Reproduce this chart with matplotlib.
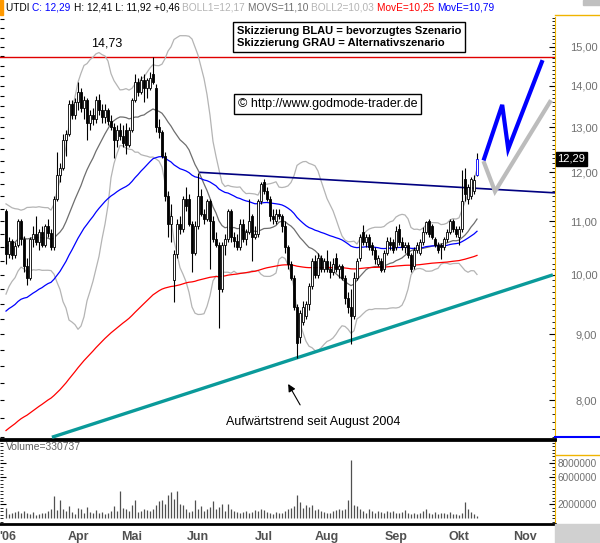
import numpy as np
import pandas as pd
import matplotlib
matplotlib.use("Agg")
import matplotlib.pyplot as plt
from matplotlib.ticker import MultipleLocator, FixedLocator, FuncFormatter, NullFormatter, NullLocator
from matplotlib.patches import Rectangle
from matplotlib.lines import Line2D

plt.rcParams['font.family'] = ['Liberation Sans', 'DejaVu Sans']

# daily bars, trading-day index 0..157 (end Feb 2006 .. 10 Oct 2006)
opens = [11.20, 10.38, 10.62, 10.35, 10.55, 11.00, 10.65, 10.15, 9.95, 10.65,
         10.75, 10.60, 10.80, 10.55, 10.90, 10.78, 10.50, 11.45, 11.95, 12.10,
         12.70, 12.85, 13.55, 13.30, 13.60, 13.85, 13.45, 13.65, 13.10, 13.30,
         13.20, 13.65, 13.40, 13.25, 13.40, 13.15, 13.00, 12.70, 12.95, 12.80,
         12.95, 12.60, 12.95, 13.65, 14.10, 13.85, 14.15, 13.95, 13.95, 14.30,
         13.95, 13.00, 12.90, 12.35, 11.50, 10.95, 9.90, 10.37, 10.95, 10.85,
         11.45, 11.45, 10.95, 10.40, 10.90, 11.50, 11.15, 11.05, 11.40, 11.00,
         10.65, 10.55, 9.75, 10.55, 10.65, 11.20, 10.70, 10.62, 10.50, 10.95,
         10.65, 10.80, 11.10, 10.70, 10.75, 11.40, 11.80, 11.60, 11.45, 11.10,
         11.00, 11.15, 11.10, 10.90, 10.50, 10.20, 9.95, 9.45, 8.95, 9.20,
         9.30, 9.50, 9.80, 10.25, 10.00, 10.30, 10.10, 10.25, 10.10, 10.05,
         10.30, 10.10, 10.15, 9.95, 9.60, 9.45, 9.30, 9.95, 10.30, 10.80,
         10.60, 10.70, 10.55, 10.45, 10.20, 10.25, 10.10, 10.40, 10.60, 10.60,
         10.50, 10.85, 10.60, 10.50, 10.55, 10.35, 10.15, 10.45, 10.40, 10.60,
         10.80, 11.00, 10.90, 10.65, 10.55, 10.55, 10.50, 10.65, 10.80, 11.00,
         10.85, 10.70, 10.85, 11.85, 11.45, 11.50, 11.60, 11.95]
highs = [11.25, 10.70, 10.66, 10.60, 11.05, 11.05, 10.72, 10.30, 10.70, 10.90,
         11.10, 10.85, 10.90, 10.95, 11.05, 10.85, 11.50, 12.45, 12.20, 12.85,
         12.95, 13.65, 13.65, 13.70, 14.10, 13.95, 13.75, 13.70, 13.40, 13.45,
         13.75, 13.80, 13.55, 13.55, 13.45, 13.30, 13.10, 13.05, 13.10, 13.05,
         13.10, 13.00, 13.70, 14.30, 14.20, 14.25, 14.30, 14.20, 14.35, 14.73,
         14.05, 13.20, 12.95, 12.45, 11.60, 11.35, 10.45, 11.05, 11.10, 11.50,
         11.70, 11.55, 11.00, 11.00, 11.98, 11.65, 11.25, 11.45, 11.45, 11.10,
         10.80, 10.60, 10.60, 10.75, 11.25, 11.25, 10.80, 10.75, 11.05, 11.05,
         10.85, 11.45, 11.15, 10.90, 11.45, 11.80, 11.85, 11.70, 11.50, 11.25,
         11.25, 11.25, 11.15, 11.00, 10.55, 10.25, 10.00, 9.50, 9.40, 9.55,
         9.55, 9.85, 10.30, 10.35, 10.40, 10.35, 10.30, 10.45, 10.25, 10.30,
         10.40, 10.20, 10.20, 10.00, 9.70, 9.75, 10.05, 10.30, 10.75, 10.93,
         10.75, 10.75, 10.60, 10.50, 10.35, 10.30, 10.45, 10.70, 10.70, 10.65,
         10.90, 10.95, 10.70, 10.60, 10.60, 10.40, 10.50, 10.60, 10.65, 10.88,
         11.00, 11.05, 10.95, 10.70, 10.60, 10.58, 10.70, 10.85, 11.05, 11.05,
         10.90, 10.90, 12.05, 12.10, 11.75, 11.90, 11.95, 12.41]
lows = [10.20, 10.30, 10.28, 10.30, 10.50, 10.55, 10.05, 9.82, 9.90, 10.50,
        10.55, 10.45, 10.50, 10.50, 10.70, 10.45, 10.45, 11.40, 11.80, 12.05,
        12.35, 12.80, 13.20, 13.20, 13.40, 13.35, 13.20, 12.70, 12.95, 13.05,
        13.10, 13.30, 13.10, 13.10, 13.05, 12.95, 12.30, 12.55, 12.70, 12.55,
        12.40, 12.55, 12.90, 13.60, 13.75, 13.80, 13.60, 13.70, 13.90, 14.05,
        12.90, 12.75, 12.30, 11.40, 10.70, 10.60, 9.53, 10.30, 10.75, 10.80,
        11.20, 10.90, 10.05, 10.35, 10.85, 11.10, 10.95, 11.00, 10.10, 10.60,
        10.50, 9.10, 9.70, 10.35, 10.60, 10.60, 10.50, 10.45, 10.45, 10.60,
        10.55, 10.75, 10.25, 10.65, 10.70, 11.35, 11.55, 11.40, 11.00, 10.95,
        10.95, 11.05, 10.80, 10.40, 10.10, 9.90, 9.40, 8.62, 8.85, 9.15,
        9.25, 9.40, 9.75, 9.95, 9.95, 10.05, 10.05, 10.05, 9.95, 10.00,
        10.05, 9.95, 9.90, 9.50, 9.35, 8.84, 9.25, 9.90, 10.25, 10.55,
        10.50, 10.45, 10.35, 10.20, 10.15, 10.05, 10.05, 10.35, 10.45, 10.40,
        10.45, 10.55, 10.45, 10.40, 10.30, 10.05, 10.10, 10.40, 10.35, 10.55,
        10.75, 10.70, 10.65, 10.50, 10.40, 10.28, 10.45, 10.60, 10.75, 10.80,
        10.70, 10.55, 10.80, 11.40, 11.35, 11.45, 11.55, 11.92]
closes = [10.38, 10.62, 10.35, 10.52, 11.00, 10.65, 10.15, 9.95, 10.65, 10.75,
          10.60, 10.80, 10.55, 10.90, 10.78, 10.50, 11.45, 11.95, 12.10, 12.70,
          12.85, 13.55, 13.30, 13.60, 13.85, 13.45, 13.65, 13.10, 13.30, 13.20,
          13.65, 13.40, 13.25, 13.40, 13.15, 13.00, 12.70, 12.95, 12.80, 12.65,
          12.60, 12.95, 13.65, 14.10, 13.85, 14.15, 13.95, 14.15, 14.20, 14.10,
          13.00, 12.90, 12.35, 11.50, 10.95, 11.10, 10.37, 10.95, 10.85, 11.45,
          11.30, 10.95, 10.40, 10.90, 11.50, 11.15, 11.05, 11.40, 11.00, 10.65,
          10.55, 9.75, 10.55, 10.65, 11.20, 10.70, 10.62, 10.50, 10.95, 10.65,
          10.80, 11.00, 10.70, 10.75, 11.40, 11.75, 11.60, 11.45, 11.10, 11.05,
          11.15, 11.10, 10.90, 10.50, 10.20, 9.95, 9.45, 8.85, 9.35, 9.45,
          9.50, 9.80, 10.25, 10.00, 10.30, 10.10, 10.25, 10.10, 10.05, 10.20,
          10.10, 10.15, 9.95, 9.60, 9.45, 9.30, 9.95, 10.25, 10.70, 10.60,
          10.70, 10.50, 10.45, 10.28, 10.30, 10.08, 10.40, 10.62, 10.55, 10.45,
          10.82, 10.60, 10.50, 10.55, 10.35, 10.10, 10.45, 10.55, 10.60, 10.80,
          10.98, 10.75, 10.70, 10.55, 10.45, 10.50, 10.65, 10.80, 11.00, 10.85,
          10.75, 10.85, 11.40, 11.55, 11.70, 11.85, 11.83, 12.29]
# closes before the first visible bar (warm-up for the 20-day bands)
pre_closes = [9.70, 9.85, 10.05, 9.90, 10.15, 10.30, 10.20, 10.45, 10.40, 10.70,
              10.60, 10.80, 10.95, 10.80, 11.05, 10.90, 10.75, 11.00, 11.15]
ema_red_start = 7.55
ema_blue_start = 9.34

# volume in millions of shares
volume = [1.5, 0.6, 0.7, 0.9, 1.0, 0.8, 1.1, 0.7, 0.6, 0.9, 0.5, 0.6, 0.8, 0.7, 1.0, 1.3,
          3.3, 1.2, 2.7, 1.35, 1.0, 1.75, 0.9, 0.6, 1.5, 1.35, 0.8, 1.6, 0.9, 0.7, 1.2, 0.8,
          0.9, 0.6, 0.7, 1.1, 1.75, 1.0, 3.9, 1.5, 1.35, 1.0, 1.95, 2.6, 0.9, 1.1, 1.3, 1.2,
          1.0, 1.4, 1.85, 2.5, 2.7, 2.1, 3.4, 3.8, 2.8, 4.0, 2.1, 1.85, 1.3, 0.9, 1.1, 2.7,
          1.3, 1.75, 1.0, 1.3, 1.6, 2.5, 1.3, 1.65, 2.1, 1.1, 2.1, 1.3, 1.0, 0.9, 0.7, 0.9,
          1.0, 0.8, 0.9, 1.2, 1.1, 1.3, 1.25, 0.9, 0.8, 0.6, 0.9, 0.8, 0.7, 1.1, 1.3, 1.5,
          1.75, 3.4, 2.4, 1.5, 1.95, 1.6, 1.85, 1.2, 1.4, 1.0, 0.9, 0.8, 0.7, 1.1, 1.2, 1.3,
          1.2, 1.4, 2.7, 8.45, 1.95, 1.75, 1.35, 1.0, 0.8, 1.3, 1.0, 0.8, 1.1, 0.9, 0.8, 1.0,
          0.9, 1.1, 0.8, 0.7, 0.9, 1.2, 0.8, 0.6, 0.7, 0.6, 0.8, 1.0, 1.3, 0.7, 0.6, 0.9,
          0.6, 0.8, 0.7, 0.6, 0.9, 0.6, 0.6, 0.5, 0.8, 2.3, 1.35, 0.9, 0.55, 0.33]

month_pos = [0.7, 24, 42, 64, 86, 107, 130, 151, 173]
month_labels = ["'06", 'Apr', 'Mai', 'Jun', 'Jul', 'Aug', 'Sep', 'Okt', 'Nov']

# drawn lines (index, price)
resist_x, resist_y = [64.7, 183], [12.0, 11.57]
trend_x, trend_y = [15.3, 182.3], [7.49, 10.0]
blue_sketch_x, blue_sketch_y = [159.4, 165.4, 167.4, 178.6], [12.3, 13.53, 12.51, 14.6]
gray_sketch_x, gray_sketch_y = [159.4, 163.0, 181.3], [12.2, 11.6, 13.6]
high_level = 14.73

idx = np.arange(len(closes))
o = np.array(opens); h = np.array(highs); l = np.array(lows); c = np.array(closes)

allc = pd.Series(pre_closes + closes)
sma = allc.rolling(20).mean().values[len(pre_closes):]
sd = allc.rolling(20).std(ddof=0).values[len(pre_closes):]
red = pd.Series([ema_red_start] + closes).ewm(span=185, adjust=False).mean().values[1:]
blue = pd.Series([ema_blue_start] + closes).ewm(span=58, adjust=False).mean().values[1:]

W, H = 600, 543
fig = plt.figure(figsize=(6, 5.43), dpi=100)
ax = fig.add_axes([0, 1 - 439 / H, 555 / W, (439 - 17) / H])
axv = fig.add_axes([0, 1 - 524 / H, 555 / W, (524 - 440) / H])

ax.set_yscale('log')
ax.set_xlim(-2, 183)
ax.set_ylim(7.467, 15.82)

# indicators
ax.plot(idx, sma + 2 * sd, color='#b4b4b4', lw=0.9, zorder=2)
ax.plot(idx, sma - 2 * sd, color='#b4b4b4', lw=0.9, zorder=2)
ax.plot(idx, sma, color='#6e6e6e', lw=0.9, zorder=2)
ax.plot(idx, red, color='#ff0000', lw=0.9, zorder=2)
ax.plot(idx, blue, color='#0000ff', lw=0.9, zorder=2)

ax.axhline(high_level, color='#e00000', lw=1.0, zorder=1)
ax.plot(resist_x, resist_y, color='#000080', lw=1.2, zorder=3)
ax.plot(trend_x, trend_y, color='#0a9a9a', lw=2.4, zorder=3, solid_capstyle='butt')

# candles
ax.vlines(idx, l, h, color='black', lw=0.8, zorder=4)
up = c >= o
fills = np.where(up, 'white', 'black')
edges = ['black'] * len(c)
edges[-1] = '#0000ff'
ax.bar(idx, np.maximum(np.abs(c - o), 0.02), bottom=np.minimum(o, c), width=0.75,
       color=fills, edgecolor=edges, linewidth=0.6, zorder=5)

# scenario sketches
ax.plot(gray_sketch_x, gray_sketch_y, color='#bcbcbc', lw=3, zorder=6, solid_joinstyle='miter')
ax.plot(blue_sketch_x, blue_sketch_y, color='#0000ff', lw=3, zorder=7, solid_joinstyle='miter')

# annotations
ax.text(33.7, 15.1, '14,73', fontsize=9, ha='center', va='center')
ax.annotate('', xy=(93.6, 8.27), xytext=(98.5, 7.9),
            arrowprops=dict(arrowstyle='-|>', color='black', lw=0.8, mutation_scale=11))
ax.text(102.3, 7.69, 'Aufwärtstrend seit August 2004', fontsize=9, ha='center', va='center')
ax.text(237 / 555, (439 - 37) / 422, 'Skizzierung BLAU = bevorzugtes Szenario\nSkizzierung GRAU = Alternativszenario',
        transform=ax.transAxes, fontsize=8, fontweight='bold', ha='left', va='center', linespacing=1.35,
        bbox=dict(boxstyle='square,pad=0.35', fc='white', ec='black', lw=1), zorder=8)
ax.text(238 / 555, (439 - 104) / 422, '© http://www.godmode-trader.de',
        transform=ax.transAxes, fontsize=9, ha='left', va='center',
        bbox=dict(boxstyle='square,pad=0.3', fc='white', ec='black', lw=1), zorder=8)

# last price box
ax.text(1.004, c[-1], '12,29', transform=ax.get_yaxis_transform(), fontsize=8, color='white',
        ha='left', va='center', bbox=dict(boxstyle='square,pad=0.15', fc='black', ec='black'), zorder=9,
        clip_on=False)

# price axis (labels right-aligned near the figure edge)
ax.yaxis.set_major_locator(FixedLocator([8, 9, 10, 11, 12, 13, 14, 15]))
ax.yaxis.set_major_formatter(FuncFormatter(lambda v, p: f'{v:.2f}'.replace('.', ',')))
ax.yaxis.set_minor_locator(MultipleLocator(0.1))
ax.yaxis.set_minor_formatter(NullFormatter())
ax.tick_params(axis='y', which='both', left=False, labelleft=False, right=True, labelright=True,
               direction='in', colors='black', labelcolor='#707070', labelsize=8)
ax.tick_params(axis='y', which='major', length=4, pad=30.5)
ax.tick_params(axis='y', which='minor', length=2)
plt.setp(ax.get_yticklabels(), ha='right')
ax.xaxis.set_major_locator(NullLocator())
ax.xaxis.set_minor_locator(NullLocator())
sec = ax.secondary_yaxis('left', functions=(lambda v: v, lambda v: v))
sec.yaxis.set_major_locator(MultipleLocator(0.25))
sec.yaxis.set_minor_locator(NullLocator())
sec.yaxis.set_major_formatter(NullFormatter())
sec.yaxis.set_minor_formatter(NullFormatter())
sec.tick_params(axis='y', direction='in', length=3, width=0.8)
sec.spines['left'].set_visible(False)

for s in ['top', 'left']:
    ax.spines[s].set_visible(False)
ax.spines['right'].set_color('#f0b400')
ax.spines['bottom'].set_linewidth(2)

# volume panel
axv.vlines(idx, 0, volume, color='#505050', lw=0.9)
axv.set_xlim(-2, 183)
axv.set_ylim(-0.85, 11.4)
axv.yaxis.set_major_locator(FixedLocator([2, 6, 8]))
axv.yaxis.set_major_formatter(FuncFormatter(lambda v, p: f'{int(v * 1e6)}'))
axv.yaxis.set_minor_locator(MultipleLocator(0.5))
axv.tick_params(axis='y', which='both', left=True, right=True, labelleft=False, labelright=True,
                direction='in', labelcolor='#707070', labelsize=7.2, pad=2)
axv.tick_params(axis='y', which='major', length=4)
axv.tick_params(axis='y', which='minor', length=2)
axv.set_xticks(month_pos)
axv.set_xticklabels(month_labels, fontsize=9, fontweight='bold', color='#505050')
axv.tick_params(axis='x', length=0, pad=5)
axv.spines['left'].set_visible(False)
axv.spines['top'].set_linewidth(2)
axv.spines['bottom'].set_linewidth(2)
axv.spines['right'].set_color('#f0b400')
axv.text(6 / 555, (524 - 447) / 84, 'Volume=330737', transform=axv.transAxes, fontsize=7.5,
         color='#606060', ha='left', va='center')

# header line with coloured values, each piece placed after the previous one
pieces = [('UTDI ', 'black'), ('C: 12,29 ', '#0000ff'), ('H: 12,41 L: 11,92 +0,46 ', 'black'),
          ('BOLL1=12,17 ', '#b4b4b4'), ('MOVS=11,10 ', '#6e6e6e'), ('BOLL2=10,03 ', '#b4b4b4'),
          ('MovE=10,25 ', '#ff0000'), ('MovE=10,79', '#0000ff')]
prev = fig.text(6 / W, 1 - 8 / H, pieces[0][0], color=pieces[0][1], fontsize=7.3, va='center')
for txt, col in pieces[1:]:
    prev = ax.annotate(txt, xy=(1, 0.5), xycoords=prev, va='center', ha='left', color=col,
                       fontsize=7.3, annotation_clip=False)

# frame decorations
fig.patches.append(Rectangle((0, 1 - 15 / H), 3 / W, 15 / H, transform=fig.transFigure, color='#ff9900'))
fig.lines.append(Line2D([555 / W, 1], [1 - 15 / H, 1 - 15 / H], transform=fig.transFigure, color='#f0b400', lw=1))
fig.lines.append(Line2D([555 / W, 1], [1 - 437 / H, 1 - 437 / H], transform=fig.transFigure, color='#0000ff', lw=1.5))
fig.lines.append(Line2D([555 / W, 1], [1 - 455 / H, 1 - 455 / H], transform=fig.transFigure, color='#f0b400', lw=1))
fig.patches.append(Rectangle((555 / W, 0), 45 / W, 19 / H, transform=fig.transFigure, color='#d0d0d0'))
fig.patches.append(Rectangle((583 / W, 1 - 5 / H), 17 / W, 5 / H, transform=fig.transFigure, color='#c0c0c0'))

fig.savefig('out.png', dpi=100, facecolor='white')
